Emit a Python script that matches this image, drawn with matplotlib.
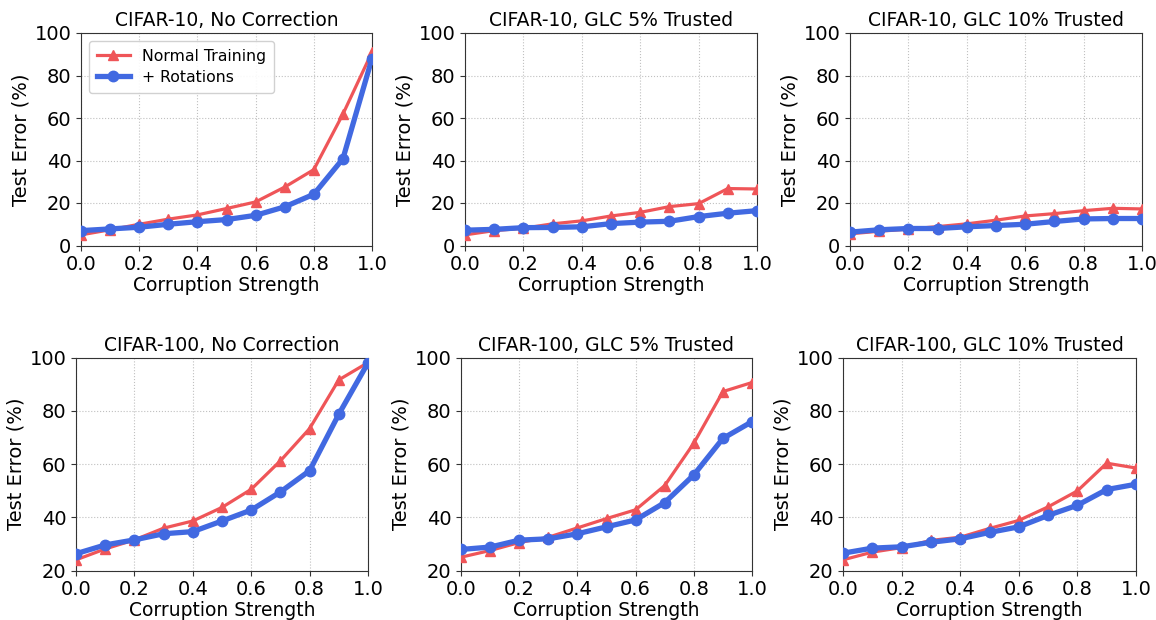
import matplotlib
matplotlib.use("Agg")
import matplotlib.pyplot as plt
import numpy as np

x = [0.0, 0.1, 0.2, 0.3, 0.4, 0.5, 0.6, 0.7, 0.8, 0.9, 1.0]

titles = ["CIFAR-10, No Correction", "CIFAR-10, GLC 5% Trusted", "CIFAR-10, GLC 10% Trusted",
          "CIFAR-100, No Correction", "CIFAR-100, GLC 5% Trusted", "CIFAR-100, GLC 10% Trusted"]

normal_c10_none = [5.0, 7.4, 10.0, 12.4, 14.4, 17.4, 20.5, 27.5, 35.7, 61.8, 91.0]
rot_c10_none = [7.0, 7.8, 8.6, 10.0, 11.2, 12.2, 14.2, 18.2, 24.1, 40.8, 88.0]
normal_c10_glc5 = [5.0, 7.0, 8.1, 10.2, 11.6, 13.9, 15.6, 18.3, 19.7, 26.8, 26.6]
rot_c10_glc5 = [7.2, 7.6, 8.4, 8.5, 8.8, 10.3, 11.0, 11.4, 13.6, 15.2, 16.4]
normal_c10_glc10 = [5.5, 6.7, 7.7, 8.9, 10.2, 11.9, 13.9, 15.0, 16.4, 17.5, 17.2]
rot_c10_glc10 = [6.3, 7.4, 8.0, 8.0, 8.8, 9.4, 10.0, 11.3, 12.5, 12.7, 12.7]
normal_c100_none = [24.0, 28.1, 31.5, 35.9, 38.6, 43.7, 50.5, 61.2, 73.3, 91.6, 98.1]
rot_c100_none = [26.3, 29.6, 31.5, 33.8, 34.6, 38.6, 42.7, 49.5, 57.5, 78.7, 98.0]
normal_c100_glc5 = [25.0, 27.5, 30.5, 32.5, 36.0, 39.5, 42.8, 51.9, 67.8, 87.2, 90.6]
rot_c100_glc5 = [27.9, 28.8, 31.4, 31.9, 33.8, 36.4, 39.0, 45.5, 55.9, 69.6, 75.9]
normal_c100_glc10 = [24.0, 26.9, 28.6, 31.3, 32.5, 35.8, 38.8, 43.9, 49.9, 60.3, 58.5]
rot_c100_glc10 = [26.5, 28.4, 28.9, 30.6, 31.9, 34.3, 36.4, 40.7, 44.5, 50.4, 52.4]

normal_all = [normal_c10_none, normal_c10_glc5, normal_c10_glc10,
              normal_c100_none, normal_c100_glc5, normal_c100_glc10]
rot_all = [rot_c10_none, rot_c10_glc5, rot_c10_glc10,
           rot_c100_none, rot_c100_glc5, rot_c100_glc10]

xticks = [0.0, 0.2, 0.4, 0.6, 0.8, 1.0]
yticks_c10 = [0, 20, 40, 60, 80, 100]
yticks_c100 = [20, 40, 60, 80, 100]

red = "#EF5558"
blue = "#4169E1"

W, H = 1156, 620
fig = plt.figure(figsize=(W / 100, H / 100), dpi=100)

# axes boxes in pixels: left, right, top, bottom
boxes = [(81, 372, 33, 245.5), (465, 757, 33, 245.5), (850, 1142, 33, 245.5),
         (76, 368, 357.5, 570.5), (461, 752, 357.5, 570.5), (843, 1136, 357.5, 570.5)]

for i, (l, r, t, b) in enumerate(boxes):
    ax = fig.add_axes([l / W, 1 - b / H, (r - l) / W, (b - t) / H])
    ax.plot(x, normal_all[i], color=red, lw=2.3, marker="^", ms=7.5, label="Normal Training",
            clip_on=True, zorder=3)
    ax.plot(x, rot_all[i], color=blue, lw=3.8, marker="o", ms=7.5, label="+ Rotations",
            clip_on=True, zorder=4)
    ax.set_xlim(0, 1)
    if i < 3:
        ax.set_ylim(0, 100)
        ax.set_yticks(yticks_c10)
    else:
        ax.set_ylim(20, 100)
        ax.set_yticks(yticks_c100)
    ax.set_xticks(xticks)
    ax.set_xticklabels([f"{v:.1f}" for v in xticks])
    ax.tick_params(labelsize=14, length=3.5, color="#333333")
    ax.grid(True, linestyle=":", color="#c0c0c0", lw=0.8)
    ax.set_axisbelow(True)
    for s in ax.spines.values():
        s.set_color("#333333")
    ax.set_title(titles[i], fontsize=13.5, pad=5)
    ax.set_xlabel("Corruption Strength", fontsize=13.5, labelpad=1)
    ax.set_ylabel("Test Error (%)", fontsize=14, labelpad=3)
    if i == 0:
        ax.legend(loc="upper left", fontsize=11.3, handlelength=2.1, borderpad=0.5,
                  labelspacing=0.4, framealpha=0.9)

fig.savefig("out.png", dpi=100)
